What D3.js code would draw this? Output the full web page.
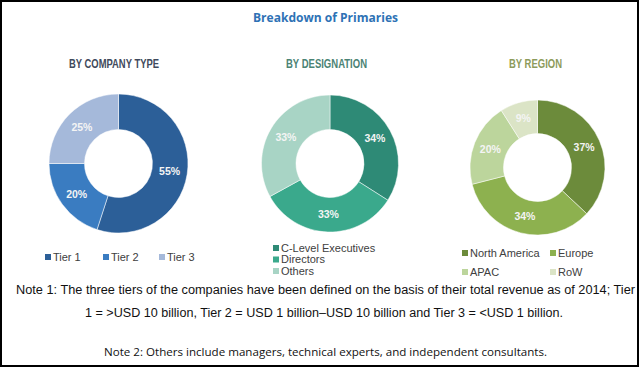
<!DOCTYPE html>
<html>
<head>
<meta charset="utf-8">
<script src="https://cdn.jsdelivr.net/npm/d3@7"></script>
<style>
  body { margin: 0; background: #fff; }
  svg { display: block; }
</style>
</head>
<body>
<svg width="640" height="368"></svg>
<script>
// Data
const companyLabels = ["Tier 1", "Tier 2", "Tier 3"];
const companyValues = [55, 20, 25];
const designationLabels = ["C-Level Executives", "Directors", "Others"];
const designationValues = [34, 33, 33];
const regionLabels = ["North America", "Europe", "APAC", "RoW"];
const regionValues = [37, 34, 20, 9];

const companyColors = ["#2c5f98", "#3a7cc1", "#a5b9da"];
const designationColors = ["#2e8a76", "#3aa98c", "#a8d4c5"];
const regionColors = ["#6c8b3b", "#8db14f", "#bcd59c", "#dbe4c6"];

const svg = d3.select("svg"), width = +svg.attr("width"),
    height = +svg.attr("height");

// frame
svg.append("rect")
    .attr("x", 1).attr("y", 1)
    .attr("width", 637).attr("height", 365)
    .style("fill", "none")
    .style("stroke", "#000")
    .style("stroke-width", 2);

svg.append("text")
    .attr("x", 325.5).attr("y", 21.5)
    .attr("text-anchor", "middle")
    .attr("textLength", 145).attr("lengthAdjust", "spacingAndGlyphs")
    .style("font-family", "'Open Sans', 'Liberation Sans', sans-serif")
    .style("font-weight", "bold")
    .style("font-size", "13px")
    .style("fill", "#2e72b5")
    .text("Breakdown of Primaries");

const panels = [
  {title: "BY COMPANY TYPE", tx: 114, tw: 90, tcolor: "#3f4a5c", cx: 118.5, cy: 163.5, r: 69.5,
   labels: companyLabels, values: companyValues, colors: companyColors},
  {title: "BY DESIGNATION", tx: 326.5, tw: 81, tcolor: "#4b8374", cx: 330, cy: 163.5, r: 68.5,
   labels: designationLabels, values: designationValues, colors: designationColors},
  {title: "BY REGION", tx: 535.5, tw: 53, tcolor: "#8d9b5b", cx: 537.5, cy: 167.5, r: 67.5,
   labels: regionLabels, values: regionValues, colors: regionColors}
];

panels.forEach(drawPanel);

// legends
legendRow(companyLabels, companyColors, [45, 103, 159], [257, 257, 257]);
legendRow(designationLabels, designationColors, [273, 273, 273], [248, 259.5, 271]);
legendRow(regionLabels, regionColors, [462, 550, 462, 550], [253, 253, 272, 272]);

// notes
const notes = [
  {t: "Note 1: The three tiers of the companies have been defined on the basis of their total revenue as of 2014; Tier",
   x: 325.5, y: 294, w: 619, font: "'Liberation Sans Narrow', 'Arial Narrow', sans-serif", size: 12.5},
  {t: "1 = >USD 10 billion, Tier 2 = USD 1 billion\u2013USD 10 billion and Tier 3 = <USD 1 billion.",
   x: 324, y: 316.5, w: 478, font: "'Liberation Sans Narrow', 'Arial Narrow', sans-serif", size: 12.5},
  {t: "Note 2: Others include managers, technical experts, and independent consultants.",
   x: 325.5, y: 356, w: 443, font: "'Open Sans', 'Noto Sans', sans-serif", size: 11}
];
svg.selectAll("text.note")
    .data(notes)
    .enter().append("text")
    .attr("class", "note")
    .attr("x", d => d.x).attr("y", d => d.y)
    .attr("text-anchor", "middle")
    .attr("textLength", d => d.w).attr("lengthAdjust", "spacingAndGlyphs")
    .style("font-family", d => d.font)
    .style("font-size", d => d.size + "px")
    .style("fill", "#111")
    .text(d => d.t);

/////////////HELPERS//////////////////

function drawPanel(p) {
  svg.append("text")
      .attr("x", p.tx).attr("y", 68)
      .attr("text-anchor", "middle")
      .attr("textLength", p.tw).attr("lengthAdjust", "spacingAndGlyphs")
      .style("font-family", "'Liberation Sans Narrow', 'Arial Narrow', sans-serif")
      .style("font-weight", "bold")
      .style("font-size", "12px")
      .style("fill", p.tcolor)
      .text(p.title);

  const pie = d3.pie().sort(null).value(d => d);
  const arc = d3.arc().innerRadius(34).outerRadius(p.r);
  const g = svg.append("g").attr("transform", `translate(${p.cx},${p.cy})`);
  const arcs = pie(p.values);

  g.selectAll("path")
      .data(arcs)
      .enter().append("path")
      .attr("d", arc)
      .style("fill", (d, i) => p.colors[i])
      .style("stroke", "#fff")
      .style("stroke-width", 0.5);

  g.selectAll("text")
      .data(arcs)
      .enter().append("text")
      .attr("transform", d => `translate(${arc.centroid(d)})`)
      .attr("dy", "0.35em")
      .attr("text-anchor", "middle")
      .style("font-family", "'Liberation Sans', Arial, sans-serif")
      .style("font-weight", "bold")
      .style("font-size", "10.5px")
      .style("fill", "#f4f4f4")
      .text(d => d.data + "%");
}

function legendRow(labels, colors, xs, ys) {
  const item = svg.append("g").selectAll("g")
      .data(labels)
      .enter().append("g")
      .attr("transform", (d, i) => `translate(${xs[i]},${ys[i]})`);
  item.append("rect")
      .attr("x", 0).attr("y", -3)
      .attr("width", 6).attr("height", 6)
      .style("fill", (d, i) => colors[i]);
  item.append("text")
      .attr("x", 8).attr("y", 0)
      .attr("dy", "0.35em")
      .style("font-family", "'Liberation Sans', Arial, sans-serif")
      .style("font-size", "11px")
      .style("fill", "#404040")
      .text(d => d);
}
</script>
</body>
</html>
